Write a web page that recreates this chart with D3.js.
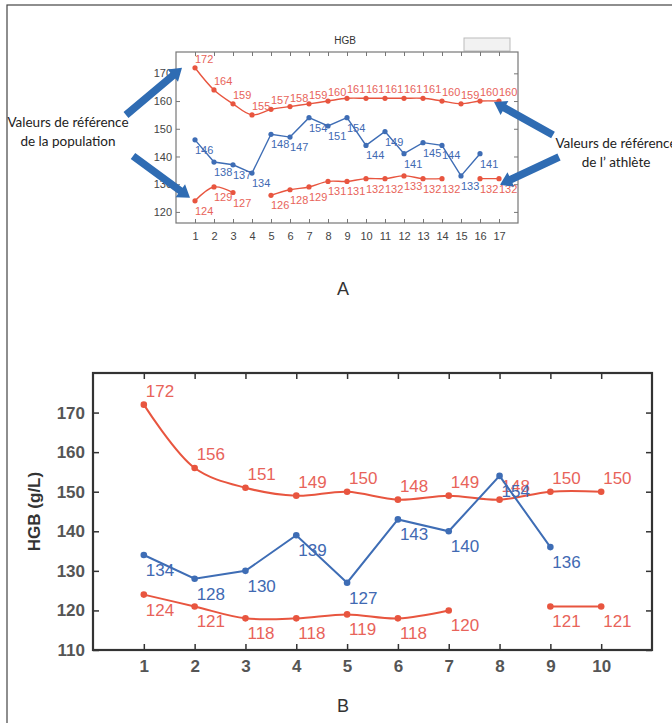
<!DOCTYPE html>
<html>
<head>
<meta charset="utf-8">
<script src="https://cdn.jsdelivr.net/npm/d3@7"></script>
<style>
  body { margin: 0; background: #fff; }
  svg { display: block; font-family: "Liberation Sans", Arial, sans-serif; }
  .note { font-family: Lato, "Open Sans", sans-serif; font-size: 13.5px; fill: #222; }
</style>
</head>
<body>
<script>
// panel A : 17 visits
var visitsA = [1, 2, 3, 4, 5, 6, 7, 8, 9, 10, 11, 12, 13, 14, 15, 16, 17];
var highA = [172, 164, 159, 155, 157, 158, 159, 160, 161, 161, 161, 161, 161, 160, 159, 160, 160];
var athleteA = [146, 138, 137, 134, 148, 147, 154, 151, 154, 144, 149, 141, 145, 144, 133, 141, null];
var lowA = [124, 129, 127, null, 126, 128, 129, 131, 131, 132, 132, 133, 132, 132, null, 132, 132];
var yTicksA = [120, 130, 140, 150, 160, 170];

// panel B : 10 visits
var visitsB = [1, 2, 3, 4, 5, 6, 7, 8, 9, 10];
var highB = [172, 156, 151, 149, 150, 148, 149, 148, 150, 150];
var athleteB = [134, 128, 130, 139, 127, 143, 140, 154, 136, null];
var lowB = [124, 121, 118, 118, 119, 118, 120, null, 121, 121];
var yTicksB = [110, 120, 130, 140, 150, 160, 170];

var red = "#e8553f", redText = "#e8635a";
var blue = "#3e6db5", blueText = "#4169b2";
var arrowBlue = "#2f6cb3";

var svg = d3.select("body").append("svg")
    .attr("width", 672)
    .attr("height", 723);

// outer frame
svg.append("rect")
    .attr("x", 7).attr("y", 5)
    .attr("width", 800).attr("height", 800)
    .attr("fill", "none")
    .attr("stroke", "#444")
    .attr("stroke-width", 1.2);

function pairs(xs, ys) {
    return xs.map((x, i) => [x, ys[i]]);
}

function drawPanel(g, opt) {
    var x = opt.x, y = opt.y;
    var x0 = x.range()[0], x1 = x.range()[1];
    var y0 = y.range()[0], y1 = y.range()[1];

    function styleAxis(sel, showText) {
        sel.select(".domain").remove();
        sel.selectAll("line").attr("stroke", opt.axisColor).attr("stroke-width", opt.tickWidth);
        sel.selectAll("text")
            .attr("fill", opt.textColor)
            .attr("font-size", opt.tickFont)
            .attr("font-weight", opt.tickWeight);
        if (!showText) sel.selectAll("text").remove();
    }

    g.append("g")
        .attr("transform", "translate(0," + y0 + ")")
        .call(d3.axisBottom(x).tickValues(opt.visits).tickSizeInner(-opt.tick).tickSizeOuter(0).tickPadding(opt.padX))
        .call(s => styleAxis(s, true));
    g.append("g")
        .attr("transform", "translate(0," + y1 + ")")
        .call(d3.axisTop(x).tickValues(opt.visits).tickSizeInner(-opt.tick).tickSizeOuter(0))
        .call(s => styleAxis(s, false));
    g.append("g")
        .attr("transform", "translate(" + x0 + ",0)")
        .call(d3.axisLeft(y).tickValues(opt.yTicks).tickSizeInner(-opt.tick).tickSizeOuter(0).tickPadding(opt.padY))
        .call(s => styleAxis(s, true));
    g.append("g")
        .attr("transform", "translate(" + x1 + ",0)")
        .call(d3.axisRight(y).tickValues(opt.yTicks).tickSizeInner(-opt.tick).tickSizeOuter(0))
        .call(s => styleAxis(s, false));

    g.append("rect")
        .attr("x", x0).attr("y", y1)
        .attr("width", x1 - x0).attr("height", y0 - y1)
        .attr("fill", "none")
        .attr("stroke", opt.axisColor)
        .attr("stroke-width", opt.boxWidth);

    opt.series.forEach(function(s) {
        var data = pairs(opt.visits, s.values);
        var line = d3.line()
            .defined(d => d[1] != null)
            .x(d => x(d[0]))
            .y(d => y(d[1]))
            .curve(s.smooth ? d3.curveCatmullRom.alpha(0.5) : d3.curveLinear);

        g.append("path")
            .datum(data)
            .attr("d", line)
            .attr("fill", "none")
            .attr("stroke", s.color)
            .attr("stroke-width", opt.lineWidth);

        var pts = data.filter(d => d[1] != null);
        g.selectAll(null)
            .data(pts)
            .enter()
            .append("circle")
            .attr("cx", d => x(d[0]))
            .attr("cy", d => y(d[1]))
            .attr("r", opt.dot)
            .attr("fill", s.color);

        g.selectAll(null)
            .data(pts)
            .enter()
            .append("text")
            .attr("x", d => x(d[0]) + s.dx)
            .attr("y", d => y(d[1]) + s.dy)
            .attr("font-size", opt.labelFont)
            .attr("fill", s.textColor)
            .text(d => d[1]);
    });
}

// ---- panel A
var xA = d3.scaleLinear().domain([0, 18]).range([176, 518]);
var yA = d3.scaleLinear().domain([116, 177.7]).range([223, 52]);
var gA = svg.append("g");

gA.append("text")
    .attr("x", 345).attr("y", 44)
    .attr("text-anchor", "middle")
    .attr("font-size", 10)
    .attr("fill", "#333")
    .text("HGB");

gA.append("rect")
    .attr("x", 464).attr("y", 38)
    .attr("width", 46).attr("height", 13)
    .attr("fill", "#f2f2f2")
    .attr("stroke", "#bbb");

drawPanel(gA, {
    x: xA, y: yA, visits: visitsA, yTicks: yTicksA,
    tick: 4, padX: 9, padY: 4, tickFont: 11, tickWeight: "normal",
    axisColor: "#777", textColor: "#444", tickWidth: 1, boxWidth: 1.2,
    lineWidth: 1.4, dot: 2.6, labelFont: 11,
    series: [
        {values: highA, color: red, textColor: redText, dx: 0, dy: -5, smooth: true},
        {values: athleteA, color: blue, textColor: blueText, dx: 0, dy: 14, smooth: false},
        {values: lowA, color: red, textColor: redText, dx: 0, dy: 14, smooth: true}
    ]
});

// arrows and notes
function arrow(x1, y1, x2, y2) {
    var a = Math.atan2(y2 - y1, x2 - x1);
    var len = 12, half = 8, w = 3.8;
    var bx = x2 - len * Math.cos(a), by = y2 - len * Math.sin(a);
    var nx = -Math.sin(a), ny = Math.cos(a);
    var pts = [
        [x1 + nx * w, y1 + ny * w],
        [bx + nx * w, by + ny * w],
        [bx + nx * half, by + ny * half],
        [x2, y2],
        [bx - nx * half, by - ny * half],
        [bx - nx * w, by - ny * w],
        [x1 - nx * w, y1 - ny * w]
    ];
    svg.append("polygon")
        .attr("points", pts.map(p => p.join(",")).join(" "))
        .attr("fill", arrowBlue);
}

arrow(126, 115, xA(1) - 13, yA(172));
arrow(133, 156, xA(1) - 5, yA(124) - 3);
arrow(553, 135, xA(17) - 5, yA(160) + 1);
arrow(559, 157, xA(17) + 1, yA(132) + 6);

svg.append("text").attr("class", "note").attr("x", 68).attr("y", 127)
    .attr("text-anchor", "middle").text("Valeurs de référence");
svg.append("text").attr("class", "note").attr("x", 68).attr("y", 146)
    .attr("text-anchor", "middle").text("de la population");
svg.append("text").attr("class", "note").attr("x", 616).attr("y", 148)
    .attr("text-anchor", "middle").text("Valeurs de référence");
svg.append("text").attr("class", "note").attr("x", 616).attr("y", 167)
    .attr("text-anchor", "middle").text("de l’ athlète");

svg.append("text")
    .attr("x", 343).attr("y", 295)
    .attr("text-anchor", "middle")
    .attr("font-size", 18)
    .attr("fill", "#333")
    .text("A");

// ---- panel B
var xB = d3.scaleLinear().domain([0, 11]).range([93, 652]);
var yB = d3.scaleLinear().domain([110, 180]).range([650, 373]);
var gB = svg.append("g");

drawPanel(gB, {
    x: xB, y: yB, visits: visitsB, yTicks: yTicksB,
    tick: 6, padX: 10, padY: 8, tickFont: 17, tickWeight: "bold",
    axisColor: "#333", textColor: "#555", tickWidth: 1.5, boxWidth: 2.2,
    lineWidth: 2, dot: 3.3, labelFont: 17,
    series: [
        {values: highB, color: red, textColor: redText, dx: 2, dy: -8, smooth: true},
        {values: athleteB, color: blue, textColor: blueText, dx: 2, dy: 21, smooth: false},
        {values: lowB, color: red, textColor: redText, dx: 2, dy: 21, smooth: true}
    ]
});

svg.append("text")
    .attr("transform", "translate(40," + ((yB.range()[0] + yB.range()[1]) / 2) + ") rotate(-90)")
    .attr("text-anchor", "middle")
    .attr("font-size", 17)
    .attr("font-weight", "bold")
    .attr("fill", "#333")
    .text("HGB (g/L)");

svg.append("text")
    .attr("x", 343).attr("y", 712)
    .attr("text-anchor", "middle")
    .attr("font-size", 18)
    .attr("fill", "#333")
    .text("B");
</script>
</body>
</html>
